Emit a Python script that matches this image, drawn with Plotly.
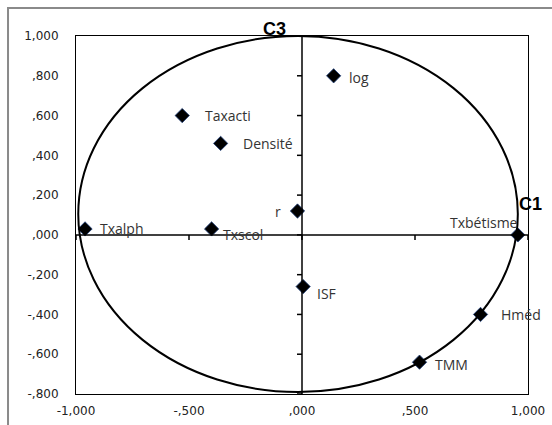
import plotly.graph_objects as go

# Correlation-circle coordinates of the variables on components C1 (x) and C3 (y)
variables = ["log", "Taxacti", "Densité", "r", "Txalph", "Txscol",
             "Txbétisme", "ISF", "Hméd", "TMM"]
c1_values = [0.14, -0.53, -0.36, -0.02, -0.96, -0.40, 0.955, 0.005, 0.79, 0.52]
c3_values = [0.80, 0.60, 0.46, 0.12, 0.03, 0.03, 0.00, -0.26, -0.40, -0.64]

x_ticks = [-1.0, -0.5, 0.0, 0.5, 1.0]
x_tick_labels = ["-1,000", "-,500", ",000", ",500", "1,000"]
y_ticks = [-0.8, -0.6, -0.4, -0.2, 0.0, 0.2, 0.4, 0.6, 0.8, 1.0]
y_tick_labels = ["-,800", "-,600", "-,400", "-,200", ",000",
                 ",200", ",400", ",600", ",800", "1,000"]

# label placement around each marker: (xanchor, xshift px, yshift px)
label_style = {
    "log": ("left", 13, -2),
    "Taxacti": ("left", 21, 0),
    "Densité": ("left", 20, 0),
    "r": ("right", -14, 0),
    "Txalph": ("left", 13, 0),
    "Txscol": ("left", 9, -6),
    "Txbétisme": ("right", 2, 12),
    "ISF": ("left", 12, -7),
    "Hméd": ("left", 18, 0),
    "TMM": ("left", 13, -2),
}

fig = go.Figure()
fig.add_trace(go.Scatter(
    x=c1_values, y=c3_values, mode="markers",
    marker=dict(symbol="diamond", size=11, color="black",
                line=dict(color="#1f3f7a", width=0.8)),
    hovertext=variables, showlegend=False,
))

shapes = []
# correlation ellipse
shapes.append(dict(type="circle", xref="x", yref="y",
                   x0=-0.99, x1=0.955, y0=-0.79, y1=1.0,
                   line=dict(color="black", width=2), layer="above"))
# axes through the origin
shapes.append(dict(type="line", xref="x", yref="y", x0=-1, x1=1, y0=0, y1=0,
                   line=dict(color="black", width=1.5)))
shapes.append(dict(type="line", xref="x", yref="y", x0=0, x1=0, y0=-0.8, y1=1.0,
                   line=dict(color="black", width=1.5)))
# tick marks on the origin axes
for xv in x_ticks:
    shapes.append(dict(type="line", xref="x", yref="y", ysizemode="pixel",
                       yanchor=0, x0=xv, x1=xv, y0=0, y1=-5,
                       line=dict(color="black", width=1.5)))
for yv in y_ticks:
    shapes.append(dict(type="line", xref="x", yref="y", xsizemode="pixel",
                       xanchor=0, x0=-5, x1=0, y0=yv, y1=yv,
                       line=dict(color="black", width=1.5)))
# chart area frame
shapes.append(dict(type="rect", xref="paper", yref="paper",
                   x0=-0.1504, x1=1.3, y0=-0.3, y1=1.078,
                   line=dict(color="#8a8a8a", width=2), layer="below"))

annotations = []
for name, xv, yv in zip(variables, c1_values, c3_values):
    anchor, dx, dy = label_style[name]
    annotations.append(dict(x=xv, y=yv, xref="x", yref="y", text=name,
                            showarrow=False, xanchor=anchor, yanchor="middle",
                            xshift=dx, yshift=dy,
                            font=dict(family="Open Sans", size=14, color="#333333")))
annotations.append(dict(x=0, y=1.0, xref="x", yref="y", text="<b>C3</b>",
                        showarrow=False, xanchor="center", yanchor="middle",
                        xshift=-28, yshift=7,
                        font=dict(family="Liberation Sans", size=18, color="black")))
annotations.append(dict(x=1.0, y=0, xref="x", yref="y", text="<b>C1</b>",
                        showarrow=False, xanchor="center", yanchor="middle",
                        xshift=2, yshift=31,
                        font=dict(family="Liberation Sans", size=18, color="black")))

axis_font = dict(family="DejaVu Sans", size=12, color="#222222")
fig.update_layout(
    width=552, height=425,
    margin=dict(l=76, r=24, t=36, b=31, autoexpand=False),
    paper_bgcolor="white", plot_bgcolor="white",
    shapes=shapes, annotations=annotations,
    xaxis=dict(range=[-1, 1], tickvals=x_ticks, ticktext=x_tick_labels,
               showgrid=False, zeroline=False, showline=True, mirror=True,
               linecolor="black", linewidth=1, ticks="", tickfont=axis_font,
               ticklabelstandoff=6, automargin=False, fixedrange=True),
    yaxis=dict(range=[-0.8, 1.0], tickvals=y_ticks, ticktext=y_tick_labels,
               showgrid=False, zeroline=False, showline=True, mirror=True,
               linecolor="black", linewidth=1, ticks="", tickfont=axis_font,
               ticklabelstandoff=14, automargin=False, fixedrange=True),
)

fig.write_html("out.html")
